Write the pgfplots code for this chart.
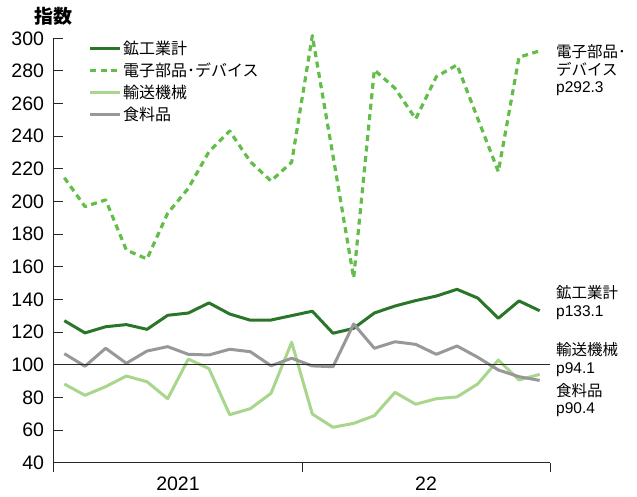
\documentclass[border=0pt]{standalone}
\usepackage{fontspec}
\setmainfont{Liberation Sans}
\newfontfamily\jp{Noto Sans CJK JP}
\usepackage{pgfplots}
\pgfplotsset{compat=1.18}
\definecolor{cDark}{RGB}{42,118,40}
\definecolor{cDash}{RGB}{98,190,72}
\definecolor{cLight}{RGB}{168,214,140}
\definecolor{cGray}{RGB}{152,152,155}
\begin{document}
\begin{tikzpicture}
\path[use as bounding box] (-54pt,-34.3pt) rectangle (583pt,462.7pt);
\begin{axis}[
  scale only axis, width=496pt, height=424.4pt,
  at={(0pt,0pt)}, anchor=south west,
  xmin=0, xmax=24, ymin=40, ymax=300,
  clip=false,
  axis x line=bottom, axis y line=left,
  axis line style={-, line width=1pt, color=black!85},
  tick align=center, major tick length=9pt,
  ytick={40,60,...,300},
  ytick style={xshift=4.5pt, line width=1pt, color=black!85},
  xtick={0,12,24}, xticklabels={},
  xtick style={yshift=-4.5pt, line width=1pt, color=black!85},
  extra x ticks={6,18}, extra x tick labels={2021,22},
  extra x tick style={major tick length=0pt, xtick style={draw=none}},
  minor tick num=0,
  /pgf/number format/assume math mode=true,
  yticklabel style={font=\fontsize{19.5}{21}\selectfont, xshift=-2pt},
  xticklabel style={font=\fontsize{19.5}{21}\selectfont, yshift=-11pt},
  legend cell align=left,
  legend style={draw=none, fill=none, at={(rel axis cs:0.069,1.003)}, anchor=north west,
    font=\jp\fontsize{16}{16}\selectfont, inner sep=0pt, row sep=0pt,
    nodes={inner xsep=1.5pt, inner ysep=0pt, minimum height=22pt}},
  legend image code/.code={\draw[#1] (0pt,0pt) -- (30pt,0pt);},
]
\addplot[cDark, line width=3pt, line join=round] coordinates {
(0.5,127.0) (1.5,119.5) (2.5,123.3) (3.5,124.6) (4.5,121.7) (5.5,130.3) (6.5,131.7) (7.5,137.9) (8.5,131.1) (9.5,127.3) (10.5,127.4) (11.5,130.1)
(12.5,132.8) (13.5,119.3) (14.5,122.3) (15.5,131.7) (16.5,136.0) (17.5,139.3) (18.5,142.1) (19.5,146.2) (20.5,140.9) (21.5,128.5) (22.5,139.1) (23.5,133.1)};
\addlegendentry{鉱工業計}
\addplot[cDash, line width=3.2pt, dash pattern=on 6pt off 4.5pt, line join=round] coordinates {
(0.5,214.6) (1.5,196.9) (2.5,201.0) (3.5,170.3) (4.5,164.8) (5.5,192.8) (6.5,208.1) (7.5,230.6) (8.5,243.2) (9.5,224.4) (10.5,212.6) (11.5,224.1)
(12.5,301.6) (13.5,228.0) (14.5,153.2) (15.5,280.6) (16.5,269.4) (17.5,250.6) (18.5,276.5) (19.5,283.7) (20.5,251.0) (21.5,218.3) (22.5,288.4) (23.5,292.3)};
\addlegendentry{電子部品･デバイス}
\addplot[cLight, line width=3pt, line join=round] coordinates {
(0.5,88.2) (1.5,81.3) (2.5,86.6) (3.5,93.1) (4.5,89.6) (5.5,79.2) (6.5,103.5) (7.5,97.6) (8.5,69.4) (9.5,73.1) (10.5,82.5) (11.5,113.8)
(12.5,69.8) (13.5,61.7) (14.5,64.1) (15.5,68.8) (16.5,83.1) (17.5,75.8) (18.5,79.2) (19.5,80.3) (20.5,88.2) (21.5,102.9) (22.5,90.7) (23.5,94.1)};
\addlegendentry{輸送機械}
\addplot[cGray, line width=3pt, line join=round] coordinates {
(0.5,106.8) (1.5,99.1) (2.5,110.1) (3.5,100.9) (4.5,108.4) (5.5,111.1) (6.5,106.4) (7.5,106.0) (8.5,109.5) (9.5,108.0) (10.5,99.4) (11.5,104.0)
(12.5,99.3) (13.5,98.8) (14.5,125.0) (15.5,110.1) (16.5,114.1) (17.5,112.5) (18.5,106.4) (19.5,111.5) (20.5,104.6) (21.5,96.8) (22.5,92.7) (23.5,90.4)};
\addlegendentry{食料品}
\addplot[black!85, line width=1pt, forget plot] coordinates {(0,100) (24,100)};
\node[anchor=center, font=\jp\bfseries\fontsize{19}{19}\selectfont] at ([yshift=22pt]rel axis cs:0,1) {指数};
\node[anchor=west, align=left, inner sep=0pt, font=\fontsize{15.5}{17.5}\selectfont] at (axis cs:24.29,280.3) {{\jp 電子部品･}\\{\jp デバイス}\\p292.3};
\node[anchor=west, align=left, inner sep=0pt, font=\fontsize{15.5}{17.5}\selectfont] at (axis cs:24.29,138.2) {{\jp 鉱工業計}\\p133.1};
\node[anchor=west, align=left, inner sep=0pt, font=\fontsize{15.5}{17.5}\selectfont] at (axis cs:24.29,103.2) {{\jp 輸送機械}\\p94.1};
\node[anchor=west, align=left, inner sep=0pt, font=\fontsize{15.5}{17.5}\selectfont] at (axis cs:24.29,78.4) {{\jp 食料品}\\p90.4};
\end{axis}
\end{tikzpicture}
\end{document}
